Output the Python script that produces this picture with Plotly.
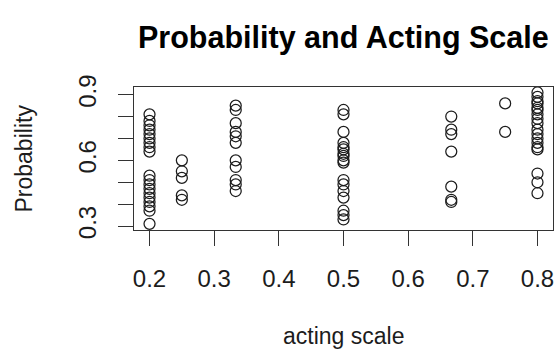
import plotly.graph_objects as go

# Probability responses grouped by acting-scale level
acting_levels = [0.2, 0.25, 1/3, 0.5, 2/3, 0.75, 0.8]
probabilities = {
    0.2: [0.81, 0.78, 0.76, 0.74, 0.72, 0.70, 0.68, 0.66, 0.64,
          0.53, 0.51, 0.49, 0.47, 0.45, 0.43, 0.41, 0.39, 0.37, 0.31],
    0.25: [0.60, 0.55, 0.52, 0.44, 0.42],
    1/3: [0.85, 0.83, 0.77, 0.73, 0.71, 0.68, 0.60, 0.57, 0.51, 0.49, 0.46],
    0.5: [0.83, 0.81, 0.73, 0.68, 0.66, 0.65, 0.63, 0.62, 0.60, 0.59,
          0.51, 0.49, 0.46, 0.43, 0.37, 0.35, 0.33],
    2/3: [0.80, 0.74, 0.72, 0.64, 0.48, 0.42, 0.41],
    0.75: [0.86, 0.73],
    0.8: [0.91, 0.89, 0.87, 0.86, 0.84, 0.83, 0.81, 0.79, 0.77, 0.74,
          0.72, 0.70, 0.68, 0.66, 0.65, 0.54, 0.50, 0.45],
}

x_ticks = [0.2, 0.3, 0.4, 0.5, 0.6, 0.7, 0.8]
y_ticks = [0.3, 0.4, 0.5, 0.6, 0.7, 0.8, 0.9]
y_tick_text = ["0.3", "", "", "0.6", "", "", "0.9"]

xs, ys = [], []
for lvl in acting_levels:
    for p in probabilities[lvl]:
        xs.append(lvl)
        ys.append(p)

ink = "#1c1c1c"
font_family = "Liberation Sans, Arial, Helvetica, sans-serif"

fig = go.Figure(
    go.Scatter(
        x=xs, y=ys, mode="markers",
        marker=dict(symbol="circle-open", size=11, color=ink,
                    line=dict(width=1.25, color=ink)),
        hoverinfo="x+y",
    )
)

axis_common = dict(
    showgrid=False, zeroline=False,
    showline=True, mirror=True, linecolor="#333333", linewidth=1.4,
    ticks="outside", ticklen=15, tickwidth=1.4, tickcolor="#333333",
    tickfont=dict(family=font_family, size=24, color=ink),
)

fig.update_xaxes(range=[0.176, 0.824], tickvals=x_ticks,
                 ticktext=[f"{t:.1f}" for t in x_ticks],
                 ticklabelstandoff=12, **axis_common)
fig.update_yaxes(range=[0.282, 0.935], tickvals=y_ticks,
                 ticktext=y_tick_text, tickangle=-90,
                 ticklabelstandoff=12, **axis_common)

fig.update_layout(
    width=558, height=354,
    margin=dict(l=134, r=5, t=87, b=124),
    paper_bgcolor="white", plot_bgcolor="white",
    showlegend=False,
    font=dict(family=font_family, color=ink),
    annotations=[
        dict(text="<b>Probability and Acting Scale</b>", xref="paper", yref="paper",
             x=0.5, y=1, yshift=50, xanchor="center", yanchor="middle",
             showarrow=False, font=dict(size=30.5, color="black")),
        dict(text="acting scale", xref="paper", yref="paper",
             x=0.5, y=0, yshift=-106, xanchor="center", yanchor="middle",
             showarrow=False, font=dict(size=23, color=ink)),
        dict(text="Probability", xref="paper", yref="paper",
             x=0, y=0.5, xshift=-96, xanchor="right", yanchor="middle",
             textangle=-90, showarrow=False, font=dict(size=23, color=ink)),
    ],
)

fig.write_html("out.html")
